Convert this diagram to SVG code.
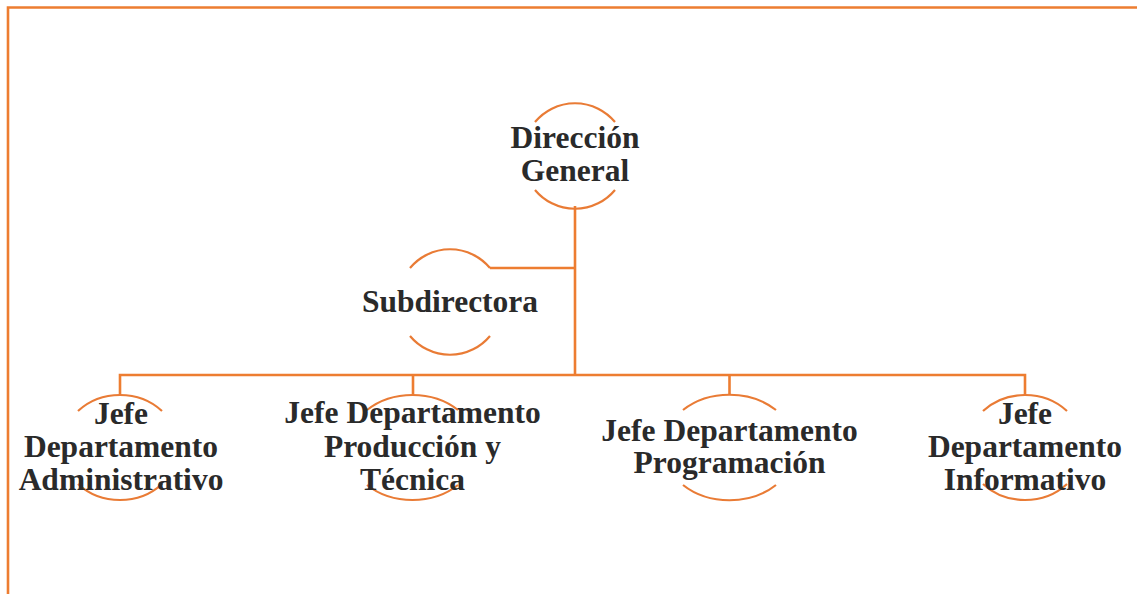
<svg xmlns="http://www.w3.org/2000/svg" width="1137" height="594" viewBox="0 0 1137 594">
<style>
.arc{fill:none;stroke:#E97B35;stroke-width:2.2}
.ln{fill:none;stroke:#ED7D31;stroke-width:2.6}
.t{font-family:"Liberation Serif","Times New Roman",serif;font-weight:bold;font-size:31.5px;fill:#2A2A2A;text-anchor:middle}
</style>
<rect width="1137" height="594" fill="#fff"/>
<g id="frame">
<path class="ln" d="M8,594 V7.5 H1137"/>
</g>
<g id="connectors">
<path class="ln" d="M575,206 V375"/>
<path class="ln" d="M490,268 H575"/>
<path class="ln" d="M120,395 V375 H1025 V395"/>
<path class="ln" d="M413,375 V395"/>
<path class="ln" d="M729.5,375 V395"/>
</g>
<g id="direccion">
<path class="arc" d="M535,122 A52,52 0 0 1 615,122"/>
<path class="arc" d="M535,190 A52,52 0 0 0 615,190"/>
<text class="t" x="575" y="148">Dirección</text>
<text class="t" x="575" y="181">General</text>
</g>
<g id="subdirectora">
<path class="arc" d="M410,268 A52,52 0 0 1 490,268"/>
<path class="arc" d="M410,336 A52,52 0 0 0 490,336"/>
<text class="t" x="450" y="312">Subdirectora</text>
</g>
<g id="administrativo">
<path class="arc" d="M78,411 A58.4,52.5 0 0 1 162,411"/>
<path class="arc" d="M78,484 A58.4,52.5 0 0 0 162,484"/>
<text class="t" x="121" y="424">Jefe</text>
<text class="t" x="121" y="457">Departamento</text>
<text class="t" x="121" y="490">Administrativo</text>
</g>
<g id="produccion">
<path class="arc" d="M367,410 A65,52.5 0 0 1 458,410"/>
<path class="arc" d="M367,485 A65,52.5 0 0 0 458,485"/>
<text class="t" x="412.5" y="423">Jefe Departamento</text>
<text class="t" x="412.5" y="457">Producción y</text>
<text class="t" x="412.5" y="490">Técnica</text>
</g>
<g id="programacion">
<path class="arc" d="M683,410 A66,52.5 0 0 1 776,410"/>
<path class="arc" d="M683,485 A66,52.5 0 0 0 776,485"/>
<text class="t" x="729.5" y="441">Jefe Departamento</text>
<text class="t" x="729.5" y="473">Programación</text>
</g>
<g id="informativo">
<path class="arc" d="M983,411 A58.4,52.5 0 0 1 1067,411"/>
<path class="arc" d="M983,484 A58.4,52.5 0 0 0 1067,484"/>
<text class="t" x="1025" y="424">Jefe</text>
<text class="t" x="1025" y="457">Departamento</text>
<text class="t" x="1025" y="490">Informativo</text>
</g>
</svg>
